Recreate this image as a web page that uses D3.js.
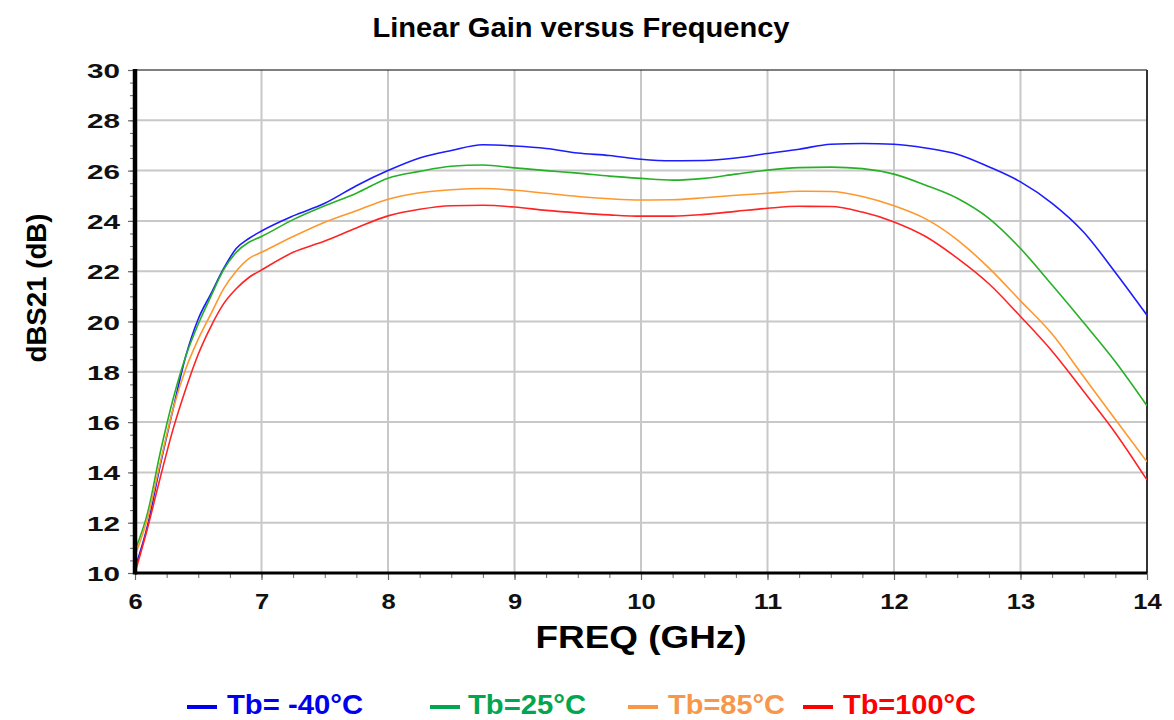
<!DOCTYPE html>
<html>
<head>
<meta charset="utf-8">
<script src="https://cdn.jsdelivr.net/npm/d3@7"></script>
<style>
  html, body { margin: 0; padding: 0; background: #fff; }
  svg { display: block; font-family: "Liberation Sans", Arial, sans-serif; }
</style>
</head>
<body>
<svg id="chart" width="1174" height="720"></svg>
<script>
// ---------------- data ----------------
const freqs = [6.0, 6.1, 6.2, 6.3, 6.4, 6.5, 6.6, 6.7, 6.8, 6.9, 7.0, 7.25, 7.5, 7.75, 8.0, 8.25, 8.5, 8.75, 9.0, 9.25, 9.5, 9.75, 10.0, 10.25, 10.5, 10.75, 11.0, 11.25, 11.5, 11.75, 12.0, 12.25, 12.5, 12.75, 13.0, 13.25, 13.5, 13.75, 14.0];
const gainM40 = [10.2, 11.9, 14.3, 16.5, 18.6, 20.1, 21.1, 22.1, 22.9, 23.3, 23.6, 24.2, 24.7, 25.4, 26.0, 26.5, 26.8, 27.03, 26.98, 26.88, 26.7, 26.6, 26.45, 26.39, 26.4, 26.5, 26.68, 26.85, 27.05, 27.08, 27.05, 26.9, 26.65, 26.15, 25.55, 24.7, 23.55, 21.95, 20.25];
const gain25 = [10.9, 12.4, 14.8, 16.9, 18.6, 19.9, 21.0, 22.05, 22.75, 23.15, 23.38, 24.05, 24.6, 25.1, 25.7, 25.97, 26.17, 26.22, 26.11, 26.0, 25.9, 25.78, 25.69, 25.62, 25.69, 25.86, 26.02, 26.12, 26.14, 26.08, 25.86, 25.42, 24.9, 24.1, 22.9, 21.45, 19.95, 18.4, 16.65];
const gain85 = [10.7, 12.2, 14.4, 16.5, 18.1, 19.3, 20.3, 21.3, 22.0, 22.5, 22.75, 23.38, 23.95, 24.4, 24.86, 25.12, 25.24, 25.29, 25.22, 25.1, 24.97, 24.88, 24.83, 24.84, 24.92, 25.02, 25.1, 25.18, 25.17, 24.97, 24.6, 24.08, 23.25, 22.13, 20.82, 19.5, 17.8, 16.1, 14.42];
const gain100 = [10.0, 11.8, 13.8, 15.7, 17.3, 18.7, 19.8, 20.7, 21.3, 21.75, 22.05, 22.75, 23.2, 23.72, 24.2, 24.46, 24.6, 24.62, 24.55, 24.42, 24.32, 24.24, 24.19, 24.19, 24.26, 24.38, 24.5, 24.58, 24.57, 24.35, 23.96, 23.38, 22.52, 21.5, 20.2, 18.82, 17.22, 15.57, 13.7];
const seriesNames = ["Tb= -40°C", "Tb=25°C", "Tb=85°C", "Tb=100°C"];
const seriesValues = [gainM40, gain25, gain85, gain100];
const xTicks = [6, 7, 8, 9, 10, 11, 12, 13, 14];
const yTicks = [10, 12, 14, 16, 18, 20, 22, 24, 26, 28, 30];
const titleText = "Linear Gain versus Frequency";
const xTitle = "FREQ (GHz)";
const yTitle = "dBS21 (dB)";

// ---------------- styles ----------------
const lineColors = ["#1c1cff", "#26b026", "#ff982c", "#ff2424"];
const legendColors = ["#0000ee", "#00a650", "#f7974a", "#ff0000"];

const svg = d3.select("#chart");
const x = d3.scaleLinear().domain([6, 14]).range([135, 1147]);
const y = d3.scaleLinear().domain([10, 30]).range([573, 70]);

// grid
const grid = svg.append("g");
grid.selectAll("line.v").data(xTicks.slice(1, -1)).enter().append("line")
  .attr("x1", d => x(d)).attr("x2", d => x(d)).attr("y1", y(30)).attr("y2", y(10))
  .attr("stroke", "#c8c8c8").attr("stroke-width", 2);
grid.selectAll("line.h").data(yTicks.slice(1, -1)).enter().append("line")
  .attr("x1", x(6)).attr("x2", x(14)).attr("y1", d => y(d)).attr("y2", d => y(d))
  .attr("stroke", "#c8c8c8").attr("stroke-width", 2);

// border top/right
svg.append("line").attr("x1", x(6)).attr("x2", x(14)).attr("y1", y(30)).attr("y2", y(30))
  .attr("stroke", "#000").attr("stroke-width", 1.2);
svg.append("line").attr("x1", x(14)).attr("x2", x(14)).attr("y1", y(30)).attr("y2", y(10))
  .attr("stroke", "#333").attr("stroke-width", 2);

// minor ticks
const xMinor = d3.range(6, 14.001, 0.25);
const yMinor = d3.range(10, 30.001, 0.5);
svg.append("g").attr("transform", `translate(0,${y(10)})`)
  .call(d3.axisBottom(x).tickValues(xMinor).tickSize(5).tickFormat(""))
  .call(g => g.select(".domain").remove())
  .call(g => g.selectAll(".tick line").attr("stroke", "#666").attr("stroke-width", 1));
svg.append("g").attr("transform", `translate(${x(6)},0)`)
  .call(d3.axisLeft(y).tickValues(yMinor).tickSize(5).tickFormat(""))
  .call(g => g.select(".domain").remove())
  .call(g => g.selectAll(".tick line").attr("stroke", "#666").attr("stroke-width", 1));

// major axes
const xAxis = svg.append("g").attr("transform", `translate(0,${y(10)})`)
  .call(d3.axisBottom(x).tickValues(xTicks).tickSize(7).tickPadding(12).tickFormat(d3.format("d")));
xAxis.select(".domain").remove();
xAxis.selectAll(".tick line").attr("stroke", "#666").attr("stroke-width", 1.2);
xAxis.selectAll(".tick text")
  .attr("font-size", 22).attr("font-weight", "bold").attr("fill", "#111")
  .attr("font-family", "'Liberation Sans', Arial, sans-serif")
  .attr("dy", "0.78em")
  .attr("textLength", d => String(d).length * 14.2).attr("lengthAdjust", "spacingAndGlyphs");

const yAxis = svg.append("g").attr("transform", `translate(${x(6)},0)`)
  .call(d3.axisLeft(y).tickValues(yTicks).tickSize(7).tickPadding(8).tickFormat(d3.format("d")));
yAxis.select(".domain").remove();
yAxis.selectAll(".tick line").attr("stroke", "#666").attr("stroke-width", 1.2);
yAxis.selectAll(".tick text")
  .attr("font-size", 21).attr("font-weight", "bold").attr("fill", "#111")
  .attr("font-family", "'Liberation Sans', Arial, sans-serif")
  .attr("dy", "0.36em")
  .attr("textLength", 33).attr("lengthAdjust", "spacingAndGlyphs");

// curves
const clip = svg.append("clipPath").attr("id", "plotclip").append("rect")
  .attr("x", x(6)).attr("y", y(30)).attr("width", x(14) - x(6)).attr("height", y(10) - y(30));
const lineGen = d3.line().x((d, i) => x(freqs[i])).y(d => y(d)).curve(d3.curveMonotoneX);
svg.append("g").attr("clip-path", "url(#plotclip)")
  .selectAll("path").data(seriesValues).enter().append("path")
  .attr("d", d => lineGen(d))
  .attr("fill", "none")
  .attr("stroke", (d, i) => lineColors[i])
  .attr("stroke-width", 1.6);

// axis lines (thick)
svg.append("line").attr("x1", x(6)).attr("x2", x(6)).attr("y1", y(30) - 1).attr("y2", y(10) + 1.5)
  .attr("stroke", "#000").attr("stroke-width", 4.5);
svg.append("line").attr("x1", x(6)).attr("x2", x(14)).attr("y1", y(10)).attr("y2", y(10))
  .attr("stroke", "#000").attr("stroke-width", 3);

// titles
svg.append("text").attr("x", 581).attr("y", 37).attr("text-anchor", "middle")
  .attr("font-size", 28).attr("font-weight", "bold").attr("fill", "#000")
  .attr("textLength", 417).attr("lengthAdjust", "spacingAndGlyphs")
  .text(titleText);
svg.append("text").attr("x", 641).attr("y", 648).attr("text-anchor", "middle")
  .attr("font-size", 32).attr("font-weight", "bold").attr("fill", "#000")
  .attr("textLength", 211).attr("lengthAdjust", "spacingAndGlyphs")
  .text(xTitle);
svg.append("text").attr("transform", "translate(46,288) rotate(-90)").attr("text-anchor", "middle")
  .attr("font-size", 28).attr("font-weight", "bold").attr("fill", "#000")
  .attr("textLength", 149).attr("lengthAdjust", "spacingAndGlyphs")
  .text(yTitle);

// legend
const legendLineX = [187, 430, 628, 803];
const legendTextX = [227, 468, 668, 843];
const legendTextW = [136, 118, 117, 133];
const lg = svg.append("g");
seriesNames.forEach((name, i) => {
  lg.append("line").attr("x1", legendLineX[i]).attr("x2", legendLineX[i] + 30)
    .attr("y1", 707).attr("y2", 707).attr("stroke", legendColors[i]).attr("stroke-width", 4);
  lg.append("text").attr("x", legendTextX[i]).attr("y", 714)
    .attr("font-size", 27).attr("font-weight", "bold").attr("fill", legendColors[i])
    .attr("textLength", legendTextW[i]).attr("lengthAdjust", "spacingAndGlyphs")
    .text(name);
});
</script>
</body>
</html>
